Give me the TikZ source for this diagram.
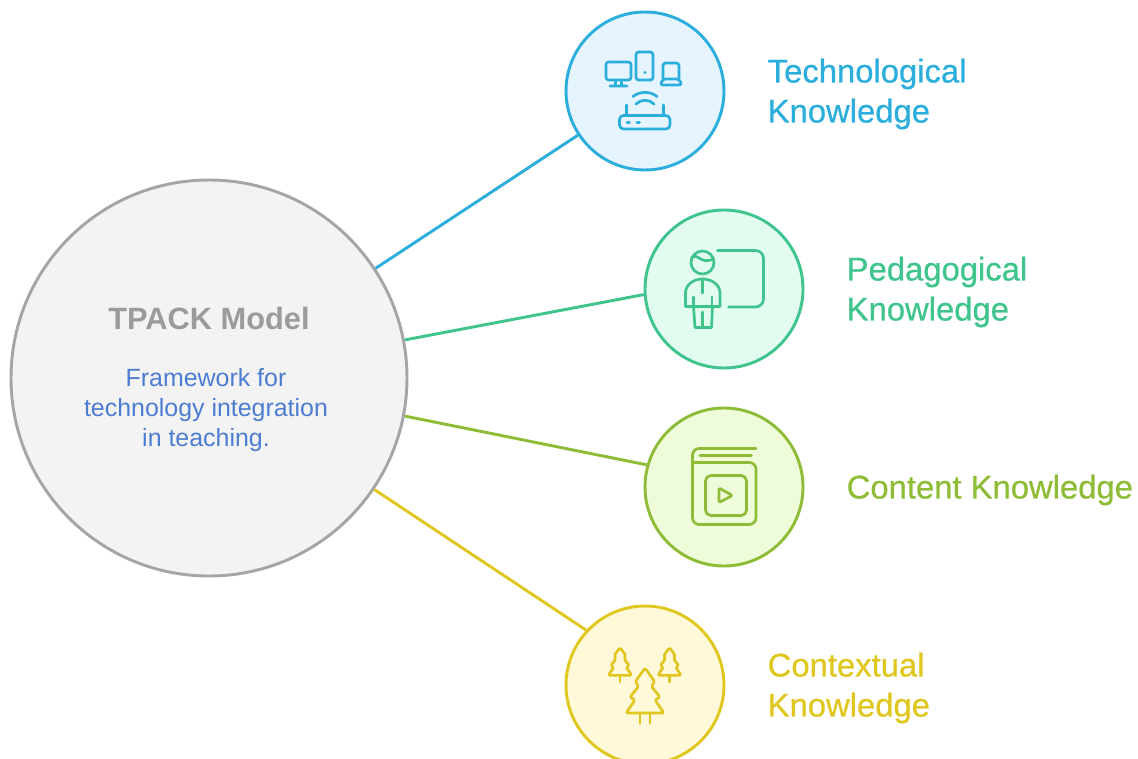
\documentclass[tikz,border=0pt]{standalone}
\usepackage{fontspec}
\setmainfont{Liberation Sans}
\newfontfamily\labelfont[FakeBold=0.7]{Liberation Sans}
\usepackage{tikz}
\definecolor{techLine}{HTML}{2CAEDC}
\definecolor{techFill}{HTML}{E5F4FF}
\definecolor{pedLine}{HTML}{3FC48C}
\definecolor{pedFill}{HTML}{E2FCEF}
\definecolor{contLine}{HTML}{8FBC37}
\definecolor{contFill}{HTML}{EFFCDA}
\definecolor{ctxLine}{HTML}{E0C71F}
\definecolor{ctxFill}{HTML}{FFF9D9}
\definecolor{hubLine}{HTML}{A5A5A5}
\definecolor{hubFill}{HTML}{F3F3F3}
\definecolor{hubText}{HTML}{9B9B9B}
\definecolor{descText}{HTML}{4C7DD2}
\tikzset{
    x=0.75pt, y=-0.75pt,
    knowledge/.style={circle, draw=#1Line, fill=#1Fill, line width=2.2pt, minimum size=118.5pt, inner sep=0pt},
    spoke/.style={draw=#1Line, line width=2.2pt},
    icon/.style={draw=#1Line, line width=2pt, line cap=round, line join=round},
    label/.style={anchor=west, text=#1Line, font=\labelfont\fontsize{24.6}{30}\selectfont, align=left},
    treeicon/.pic={
        \draw[rounded corners=1.5pt, pic actions] (0,0) -- (10,14) -- (6,18) -- (15,29) -- (10,32) -- (19,45) -- (-19,45) -- (-10,32) -- (-15,29) -- (-6,18) -- (-10,14) -- cycle;
    }
}
\begin{document}
\begin{tikzpicture}
        \clip (0,0) rectangle (1138,759);
        \useasboundingbox (0,0) rectangle (1138,759);
        \node[circle, draw=hubLine, fill=hubFill, line width=2.2pt, minimum size=297pt, inner sep=0pt] (hub) at (209,378) {};
        \node[knowledge=tech] (tech) at (645,91) {};
        \node[knowledge=ped] (ped) at (724,289) {};
        \node[knowledge=cont] (cont) at (724,487) {};
        \node[knowledge=ctx] (ctx) at (645,685) {};
        \draw[spoke=tech] (hub) -- (tech);
        \draw[spoke=ped] (hub.11) -- (ped.184);
        \draw[spoke=cont] (hub.349) -- (cont.164);
        \draw[spoke=ctx] (hub.326.5) -- (ctx.137.5);
        \node[text=hubText, font=\fontsize{23.1}{30}\bfseries\selectfont] (hubTitle) at (209,318) {TPACK Model};
        \node[text=descText, font=\fontsize{18.7}{22.5}\selectfont, align=center] (hubDesc) at (206,410) {Framework for\\technology integration\\in teaching.};
        \node[label=tech] (techLabel) at (763,94) {Technological\\Knowledge};
        \node[label=ped] (pedLabel) at (842,292) {Pedagogical\\Knowledge};
        \node[label=cont] (contLabel) at (842,490) {Content Knowledge};
        \node[label=ctx] (ctxLabel) at (763,688) {Contextual\\Knowledge};
        % devices and router
        \draw[icon=tech, rounded corners=2pt] (606,62) rectangle (631,80);
        \draw[icon=tech] (616,80) -- (615,86) (621,80) -- (622,86) (610,86) -- (627,86);
        \draw[icon=tech, rounded corners=2pt] (636,52) rectangle (653,80);
        \fill[techLine] (645,72.5) circle (1.6);
        \draw[icon=tech, rounded corners=2pt] (663,80) -- (663,63) -- (679,63) -- (679,80);
        \draw[icon=tech, rounded corners=2pt] (663,79) -- (660,85) -- (682,85) -- (679,79) -- cycle;
        \draw[icon=tech] (633,96.5) .. controls (640,91) and (650,91) .. (657,96.5);
        \draw[icon=tech] (636,104) .. controls (641,99) and (649,99) .. (654,104);
        \draw[icon=tech, rounded corners=3pt] (619.5,115.5) rectangle (670,129);
        \draw[icon=tech] (626.5,105) -- (626.5,115.5) (663.5,105) -- (663.5,115.5);
        \draw[icon=tech] (627,122.5) -- (629.5,122.5) (637,122.5) -- (639.5,122.5);
        % teacher and board
        \draw[icon=ped] (702.5,262.5) circle (11.5);
        \draw[icon=ped] (691.5,258) .. controls (698,252) and (700,265) .. (713,259);
        \draw[icon=ped, rounded corners=6pt] (717.5,250.5) -- (763.5,250.5) -- (763.5,307) -- (728.5,307);
        \draw[icon=ped] (685.5,306.5) -- (685.5,293) .. controls (685.5,285) and (693,279) .. (702.5,279) .. controls (712,279) and (720,285) .. (720,293) -- (720,306.5) -- cycle;
        \draw[icon=ped] (702.5,279) -- (702.5,293) (693.5,297) -- (693.5,306.5) (712,297) -- (712,306.5);
        \draw[icon=ped] (693.5,306.5) -- (695,327.5) -- (711.5,327.5) -- (712.5,306.5);
        \draw[icon=ped] (702.5,312) -- (702.5,327.5);
        % book with play button
        \draw[icon=cont, rounded corners=5pt] (756,448.5) -- (692.5,448.5) -- (692.5,524.5) -- (756,524.5) -- (756,462.5) -- (692.5,462.5);
        \draw[icon=cont] (700,455.5) -- (751.5,455.5);
        \draw[icon=cont, rounded corners=4pt] (705.5,475.5) rectangle (746.5,515.5);
        \draw[icon=cont, rounded corners=1pt] (719,488) -- (732.5,495.5) -- (719,502.5) -- cycle;
        % trees
        \pic[icon=ctx, scale=0.62] at (620,647.5) {treeicon};
        \pic[icon=ctx, scale=0.62] at (669.5,647.5) {treeicon};
        \pic[icon=ctx] at (645,668) {treeicon};
        \draw[icon=ctx] (620,676) -- (620,682) (669.5,676) -- (669.5,682);
        \draw[icon=ctx] (640,713) -- (640,723.5) (650,713) -- (650,723.5);
    \end{tikzpicture}
\end{document}
